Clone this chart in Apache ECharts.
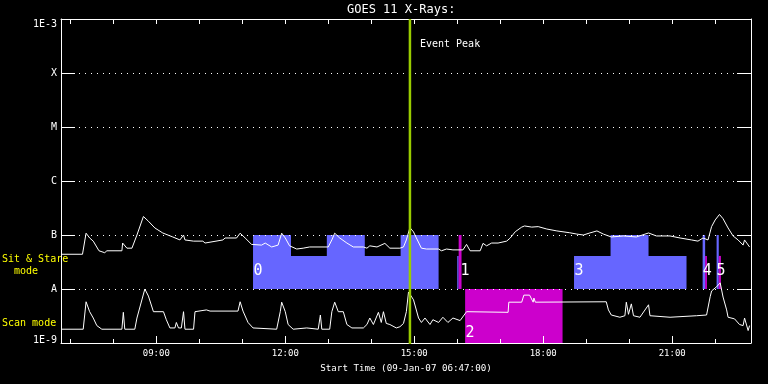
<!DOCTYPE html>
<html><head><meta charset="utf-8">
<script src="https://cdn.jsdelivr.net/npm/echarts@6/dist/echarts.min.js"></script>
<style>html,body{margin:0;padding:0;background:#000}#c{width:768px;height:384px}</style>
</head><body><div id="c"></div>
<script>
const titleText = 'GOES 11 X-Rays:';
const axisTitle = 'Start Time (09-Jan-07 06:47:00)';
const xStart = '06:47';
const xEnd = '22:50';
const levelLabels = ['1E-9', 'A', 'B', 'C', 'M', 'X', '1E-3'];
const hourTicks = ['07:00','08:00','09:00','10:00','11:00','12:00','13:00','14:00','15:00','16:00','17:00','18:00','19:00','20:00','21:00','22:00'];
const labelTicks = ['09:00','12:00','15:00','18:00','21:00'];
const eventTime = '14:54';
const eventLabel = 'Event Peak';
const sideLabels = ['Sit & Stare', '  mode', 'Scan mode'];

// Long channel (upper curve)
const longTimes = ['06:47','07:17','07:22','07:27','07:32','07:40','07:48','07:51','08:12','08:13','08:19','08:26','08:33','08:42','08:49','08:58','09:09','09:23','09:33','09:38','09:40','09:52','10:05','10:08','10:10','10:33','10:36','10:52','10:57','11:04','11:13','11:27','11:32','11:41','11:50','11:55','12:00','12:06','12:16','12:25','12:34','13:00','13:05','13:09','13:16','13:26','13:35','13:49','13:54','13:58','14:08','14:19','14:26','14:40','14:45','14:49','14:54','14:59','15:03','15:10','15:17','15:34','15:38','15:45','15:54','16:08','16:13','16:18','16:32','16:36','16:41','16:48','16:57','17:09','17:14','17:21','17:30','17:34','17:44','17:53','18:05','18:19','18:37','18:47','18:56','19:05','19:15','19:24','19:35','19:52','20:10','20:27','20:38','20:57','21:11','21:27','21:36','21:43','21:50','21:55','22:00','22:06','22:11','22:18','22:25','22:32','22:39','22:41','22:48'];
const longFlux = [4.4e-8,4.4e-8,1.08e-7,8.8e-8,7.7e-8,5.1e-8,4.7e-8,5.1e-8,5.1e-8,7.1e-8,5.7e-8,5.7e-8,1.0e-7,2.2e-7,1.8e-7,1.35e-7,1.09e-7,9.2e-8,8.1e-8,1.0e-7,8.1e-8,7.7e-8,7.7e-8,7.1e-8,7.7e-8,8.1e-8,8.8e-8,8.8e-8,1.08e-7,8.8e-8,6.7e-8,6.5e-8,7.1e-8,6.0e-8,6.5e-8,1.08e-7,8.8e-8,6.3e-8,5.5e-8,5.7e-8,6.0e-8,6.0e-8,8.1e-8,1.08e-7,8.8e-8,7.1e-8,6.0e-8,6.0e-8,5.7e-8,6.3e-8,6.0e-8,7.0e-8,5.7e-8,5.7e-8,6.0e-8,8.1e-8,1.37e-7,1.14e-7,8.8e-8,5.7e-8,5.5e-8,5.5e-8,5.1e-8,5.5e-8,5.3e-8,5.3e-8,6.7e-8,5.1e-8,5.1e-8,7.0e-8,6.3e-8,7.1e-8,7.1e-8,7.7e-8,8.8e-8,1.15e-7,1.4e-7,1.47e-7,1.4e-7,1.43e-7,1.29e-7,1.19e-7,1.1e-7,1.04e-7,1.0e-7,1.09e-7,1.19e-7,1.04e-7,9.2e-8,9.6e-8,9.2e-8,1.09e-7,9.6e-8,9.6e-8,8.8e-8,8.1e-8,7.7e-8,8.8e-8,8.1e-8,1.43e-7,1.9e-7,2.4e-7,2.0e-7,1.35e-7,9.6e-8,8.1e-8,6.5e-8,8.1e-8,6.0e-8];

// Short channel (lower curve)
const shortTimes = ['06:47','07:18','07:22','07:27','07:32','07:37','07:44','08:12','08:14','08:16','08:30','08:33','08:44','08:49','08:56','09:10','09:14','09:19','09:26','09:28','09:31','09:35','09:38','09:40','09:52','09:54','10:10','10:15','10:54','10:57','11:01','11:08','11:15','11:48','11:53','11:55','12:00','12:04','12:11','12:30','12:46','12:49','12:51','13:02','13:05','13:09','13:14','13:21','13:26','13:33','13:49','13:54','13:58','14:03','14:10','14:14','14:17','14:21','14:26','14:35','14:40','14:45','14:49','14:52','14:54','14:59','15:06','15:10','15:15','15:22','15:26','15:34','15:40','15:47','15:54','16:04','16:13','17:11','17:12','17:30','17:33','17:41','17:46','17:47','17:49','19:28','19:31','19:35','19:47','19:54','19:56','19:59','20:03','20:06','20:15','20:27','20:29','20:57','21:34','21:48','21:53','21:55','22:02','22:07','22:11','22:16','22:18','22:27','22:34','22:39','22:41','22:46','22:48'];
const shortFlux = [1.8e-9,1.8e-9,5.8e-9,3.8e-9,2.9e-9,2.1e-9,1.8e-9,1.8e-9,3.7e-9,1.8e-9,1.8e-9,2.9e-9,1.0e-8,7.4e-9,3.8e-9,3.8e-9,2.7e-9,1.9e-9,1.9e-9,2.4e-9,1.9e-9,1.9e-9,3.8e-9,1.8e-9,1.8e-9,3.8e-9,4.1e-9,3.9e-9,3.9e-9,5.8e-9,3.9e-9,2.4e-9,1.9e-9,1.8e-9,3.8e-9,5.7e-9,3.8e-9,2.2e-9,1.8e-9,1.9e-9,1.8e-9,3.3e-9,1.8e-9,1.8e-9,3.8e-9,5.7e-9,3.8e-9,3.8e-9,2.2e-9,1.9e-9,1.9e-9,2.2e-9,2.9e-9,2.2e-9,3.7e-9,2.4e-9,3.8e-9,2.3e-9,2.2e-9,1.9e-9,2.0e-9,2.3e-9,3.8e-9,8.8e-9,9.5e-9,6.3e-9,2.9e-9,2.4e-9,2.9e-9,2.2e-9,2.7e-9,2.4e-9,3.0e-9,2.4e-9,2.9e-9,2.6e-9,3.8e-9,3.7e-9,5.7e-9,5.7e-9,7.7e-9,7.7e-9,5.7e-9,6.8e-9,5.7e-9,5.8e-9,4.1e-9,3.3e-9,3.0e-9,3.2e-9,5.7e-9,3.4e-9,5.3e-9,3.2e-9,3.0e-9,5.1e-9,3.2e-9,3.0e-9,3.2e-9,3.3e-9,7.2e-9,9.2e-9,1.1e-8,1.3e-8,7.1e-9,4.1e-9,3.0e-9,2.8e-9,2.2e-9,2.1e-9,2.9e-9,1.7e-9,2.1e-9];

// Observing-mode blocks (0 = blue, 1 = magenta)
const modeStart = ['11:15','11:15','12:58','14:41','16:00','16:02','16:11','18:43','19:34','21:42:30','21:46','22:02','22:05'];
const modeEnd   = ['15:34','12:08','13:51','15:34','16:02','16:06','18:27','21:20','20:27','21:46','21:48:30','22:05','22:08'];
const modeLow   = [1e-8,4.1e-8,4.1e-8,4.1e-8,1e-8,1e-8,1e-9,1e-8,4.1e-8,1e-8,1e-8,1e-8,1e-8];
const modeHigh  = [4.1e-8,1e-7,1e-7,1e-7,4.1e-8,1e-7,1e-8,4.1e-8,1e-7,1e-7,4.1e-8,1e-7,4.1e-8];
const modeKind  = [0,0,0,0,0,1,1,0,0,0,1,0,1];
const modeLabels = ['0','1','2','3','4','5'];
const modeLabelTimes = ['11:15','16:04','16:11','18:43','21:42','22:01'];
const modeLabelFlux = [2.1e-8,2.1e-8,1.5e-9,2.1e-8,2.1e-8,2.1e-8];

const palette = ['#6666ff', '#cc00cc'];
const FONT = "'DejaVu Sans Mono', monospace";

const toMin = s => { const p = s.split(':').map(Number); return p[0] * 60 + p[1] + (p[2] || 0) / 60; };
const fmt = m => String(Math.floor(m / 60)).padStart(2, '0') + ':' + String(Math.round(m % 60)).padStart(2, '0');
const xMin = toMin(xStart), xMax = toMin(xEnd);

const chart = echarts.init(document.getElementById('c'), null, { width: 768, height: 384, renderer: 'canvas' });

const rectData = modeStart.map((s, i) => [toMin(s), toMin(modeEnd[i]), modeLow[i], modeHigh[i], modeKind[i]]);
const labelData = modeLabelTimes.map((t, i) => [toMin(t), modeLabelFlux[i]]);

chart.setOption({
  animation: false,
  backgroundColor: '#000',
  grid: { left: 61, right: 17, top: 19, bottom: 41 },
  graphic: [
    { type: 'text', left: 347, top: 4, style: { text: titleText, fill: '#fff', font: '12px ' + FONT } },
    { type: 'text', x: 2, y: 259.5, style: { text: sideLabels[0], fill: '#ffff00', font: '10px ' + FONT, verticalAlign: 'middle' } },
    { type: 'text', x: 2, y: 271.5, style: { text: sideLabels[1], fill: '#ffff00', font: '10px ' + FONT, verticalAlign: 'middle' } },
    { type: 'text', x: 2, y: 323.5, style: { text: sideLabels[2], fill: '#ffff00', font: '10px ' + FONT, verticalAlign: 'middle' } }
  ],
  xAxis: [
    {
      type: 'value', min: xMin, max: xMax, position: 'bottom', z: 3,
      axisLine: { onZero: false, lineStyle: { color: '#fff', width: 1 } },
      axisTick: { inside: true, length: 7, customValues: labelTicks.map(toMin), lineStyle: { color: '#fff' } },
      axisLabel: { customValues: labelTicks.map(toMin), formatter: v => fmt(v), color: '#fff', fontFamily: FONT, fontSize: 9, margin: 6 },
      splitLine: { show: false },
      name: axisTitle, nameLocation: 'middle', nameGap: 21,
      nameTextStyle: { color: '#fff', fontFamily: FONT, fontSize: 9.2 }
    },
    {
      type: 'value', min: xMin, max: xMax, position: 'bottom', z: 3,
      axisLine: { show: false, onZero: false },
      axisTick: { inside: true, length: 4, customValues: hourTicks.map(toMin), lineStyle: { color: '#fff' } },
      axisLabel: { show: false }, splitLine: { show: false }
    },
    {
      type: 'value', min: xMin, max: xMax, position: 'top', z: 3,
      axisLine: { onZero: false, lineStyle: { color: '#fff' } },
      axisTick: { inside: true, length: 5, customValues: hourTicks.map(toMin), lineStyle: { color: '#fff' } },
      axisLabel: { show: false }, splitLine: { show: false }
    }
  ],
  yAxis: [
    {
      type: 'log', logBase: 10, min: 1e-9, max: 1e-3, position: 'left', z: 2,
      axisLine: { onZero: false, lineStyle: { color: '#fff' } },
      axisTick: { inside: true, length: 14, lineStyle: { color: '#fff' } },
      axisLabel: {
        color: '#fff', fontFamily: FONT, fontSize: 10, margin: 4,
        formatter: v => {
          const i = Math.round(Math.log10(v)) + 9;
          if (i === 6) return '{top|' + levelLabels[i] + '}';
          if (i === 0) return '{bot|' + levelLabels[i] + '}';
          return levelLabels[i];
        },
        rich: {
          top: { color: '#fff', fontFamily: FONT, fontSize: 10, padding: [10, 0, 0, 0] },
          bot: { color: '#fff', fontFamily: FONT, fontSize: 10, padding: [0, 0, 6, 0] }
        }
      },
      splitLine: { show: true, lineStyle: { color: '#fff', width: 1, type: [1, 5] } }
    },
    {
      type: 'log', logBase: 10, min: 1e-9, max: 1e-3, position: 'right', z: 3,
      axisLine: { onZero: false, lineStyle: { color: '#fff' } },
      axisTick: { inside: true, length: 14, lineStyle: { color: '#fff' } },
      axisLabel: { show: false }, splitLine: { show: false }
    }
  ],
  series: [
    {
      type: 'custom', name: 'modes', z: 1, xAxisIndex: 0, yAxisIndex: 0,
      data: rectData, encode: { x: [0, 1], y: [2, 3] },
      renderItem: (params, api) => {
        const p1 = api.coord([api.value(0), api.value(3)]);
        const p2 = api.coord([api.value(1), api.value(2)]);
        return { type: 'rect', shape: { x: p1[0], y: p1[1], width: p2[0] - p1[0], height: p2[1] - p1[1] },
                 style: { fill: palette[api.value(4)] } };
      }
    },
    {
      type: 'line', name: 'long', z: 3, data: longTimes.map((t, i) => [toMin(t), longFlux[i]]),
      showSymbol: false, symbol: 'none', lineStyle: { color: '#fff', width: 1 }
    },
    {
      type: 'line', name: 'short', z: 3, data: shortTimes.map((t, i) => [toMin(t), shortFlux[i]]),
      showSymbol: false, symbol: 'none', lineStyle: { color: '#fff', width: 1 }
    },
    {
      type: 'custom', name: 'modeLabels', z: 4,
      data: labelData, encode: { x: 0, y: 1 },
      renderItem: (params, api) => {
        const p = api.coord([api.value(0), api.value(1)]);
        return { type: 'text', x: p[0] + 0.5, y: p[1],
                 style: { text: modeLabels[params.dataIndex], fill: '#fff', font: '15px ' + FONT, verticalAlign: 'middle', align: 'left' } };
      }
    },
    {
      type: 'custom', name: 'event', z: 10,
      data: [[toMin(eventTime), 1e-3]], encode: { x: 0, y: 1 },
      renderItem: (params, api) => {
        const top = api.coord([api.value(0), 1e-3]);
        const bot = api.coord([api.value(0), 1e-9]);
        return { type: 'group', children: [
          { type: 'line', shape: { x1: top[0], y1: top[1], x2: bot[0], y2: bot[1] + 1 }, style: { stroke: '#99cc00', lineWidth: 2.5 } },
          { type: 'text', x: top[0] + 10, y: top[1] + 25, style: { text: eventLabel, fill: '#fff', font: '10px ' + FONT, verticalAlign: 'middle' } }
        ] };
      }
    }
  ]
});
</script></body></html>
